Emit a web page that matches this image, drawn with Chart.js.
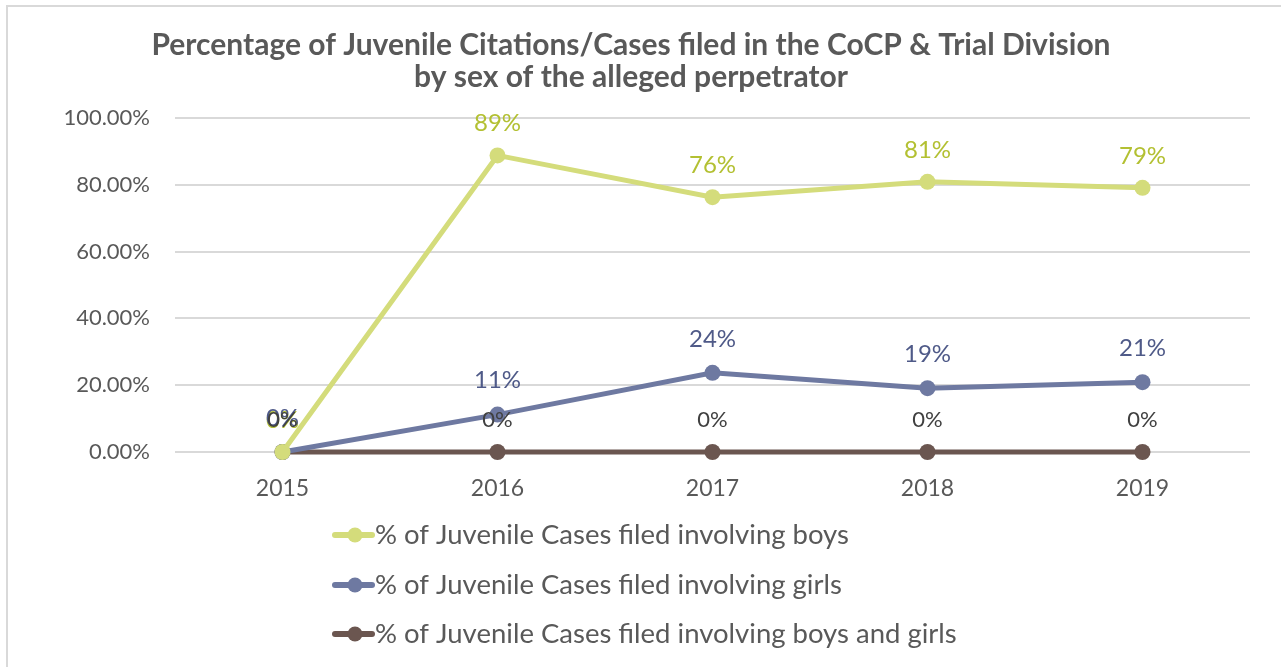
<!DOCTYPE html>
<html>
<head>
<meta charset="utf-8">
<script src="https://cdn.jsdelivr.net/npm/chart.js@4.4.0/dist/chart.umd.min.js"></script>
<style>
  html, body { margin: 0; padding: 0; background: #fff; }
  #wrap { position: absolute; left: 0; top: 0; width: 1281px; height: 667px; }
  #frame { position: absolute; left: 6px; top: 5px; width: 1300px; height: 700px; border-left: 2px solid #d9d9d9; border-top: 2px solid #d9d9d9; pointer-events: none; }
</style>
</head>
<body>
<div id="wrap"><canvas id="c" width="1281" height="667"></canvas></div>
<div id="frame"></div>
<script>
const TITLE_LINES = ["Percentage of Juvenile Citations/Cases filed in the CoCP & Trial Division", "by sex of the alleged perpetrator"];
const YEARS = ["2015", "2016", "2017", "2018", "2019"];
const SERIES_LABELS = [
  "% of Juvenile Cases filed involving boys",
  "% of Juvenile Cases filed involving girls",
  "% of Juvenile Cases filed involving boys and girls"
];
const BOYS = [0, 88.8, 76.3, 80.9, 79.1];
const GIRLS = [0, 11.2, 23.7, 19.1, 20.9];
const BOTH = [0, 0, 0, 0, 0];
const Y_TICKS = [0, 20, 40, 60, 80, 100];

const FONT = "Lato, 'Open Sans', sans-serif";
const LINE_COLORS = ["#d4dc7b", "#6e79a1", "#6b5650"];
const LABEL_COLORS = ["#b3c032", "#4f5a88", "#404040"];

const dataLabels = {
  id: 'dataLabels',
  afterDatasetsDraw(chart) {
    const ctx = chart.ctx;
    ctx.save();
    ctx.textAlign = 'center';
    ctx.textBaseline = 'middle';
    chart.data.datasets.forEach((ds, i) => {
      const meta = chart.getDatasetMeta(i);
      ctx.fillStyle = LABEL_COLORS[i];
      ctx.font = (i === 2 ? "22px " : "24px ") + FONT;
      meta.data.forEach((pt, j) => {
        const v = ds.data[j];
        const off = i === 1 ? 34 : 32;
        ctx.fillText(Math.round(v) + "%", pt.x, pt.y - off);
      });
    });
    ctx.restore();
  }
};

const titleAndLegend = {
  id: 'titleAndLegend',
  afterDraw(chart) {
    const ctx = chart.ctx;
    ctx.save();
    ctx.fillStyle = "#595959";
    ctx.font = "bold 30px " + FONT;
    ctx.textAlign = 'center';
    ctx.textBaseline = 'middle';
    ctx.fillText(TITLE_LINES[0], 631, 45);
    ctx.fillText(TITLE_LINES[1], 631, 77);
    // legend
    const rows = [535, 585, 634];
    chart.data.datasets.forEach((ds, i) => {
      const y = rows[i];
      ctx.strokeStyle = LINE_COLORS[i];
      ctx.lineWidth = 6;
      ctx.lineCap = 'round';
      ctx.beginPath();
      ctx.moveTo(335, y);
      ctx.lineTo(372, y);
      ctx.stroke();
      ctx.fillStyle = LINE_COLORS[i];
      ctx.beginPath();
      ctx.arc(355, y, 7.5, 0, Math.PI * 2);
      ctx.fill();
      ctx.fillStyle = "#595959";
      ctx.font = "27.5px " + FONT;
      ctx.textAlign = 'left';
      ctx.fillText(ds.label, 375, y);
    });
    ctx.restore();
  }
};

function mk(label, data, idx) {
  return {
    label: label,
    data: data,
    borderColor: LINE_COLORS[idx],
    backgroundColor: LINE_COLORS[idx],
    pointBackgroundColor: LINE_COLORS[idx],
    pointBorderColor: LINE_COLORS[idx],
    borderWidth: 5,
    pointRadius: 8,
    pointBorderWidth: 0,
    tension: 0,
    fill: false,
    clip: false
  };
}

new Chart(document.getElementById('c'), {
  type: 'line',
  data: {
    labels: YEARS,
    datasets: [
      mk(SERIES_LABELS[0], BOYS, 0),
      mk(SERIES_LABELS[1], GIRLS, 1),
      mk(SERIES_LABELS[2], BOTH, 2)
    ]
  },
  options: {
    responsive: false,
    animation: false,
    devicePixelRatio: 1,
    layout: { padding: { top: 118, right: 31, left: 0, bottom: 0 } },
    plugins: {
      legend: { display: false },
      title: { display: false },
      tooltip: { enabled: false }
    },
    scales: {
      x: {
        offset: true,
        grid: { display: false, drawTicks: false },
        border: { display: false },
        ticks: { color: "#595959", font: { family: FONT, size: 23 }, padding: 23 },
        afterFit(s) { s.height = 215; }
      },
      y: {
        min: 0, max: 100,
        afterBuildTicks(s) { s.ticks = Y_TICKS.map(v => ({ value: v })); },
        grid: { color: "#d9d9d9", lineWidth: 2, drawTicks: false },
        border: { display: false },
        ticks: {
          color: "#595959",
          font: { family: FONT, size: 22 },
          padding: 25,
          callback: v => v.toFixed(2) + "%"
        },
        afterFit(s) { s.width = 175; }
      }
    }
  },
  plugins: [dataLabels, titleAndLegend]
});
</script>
</body>
</html>
